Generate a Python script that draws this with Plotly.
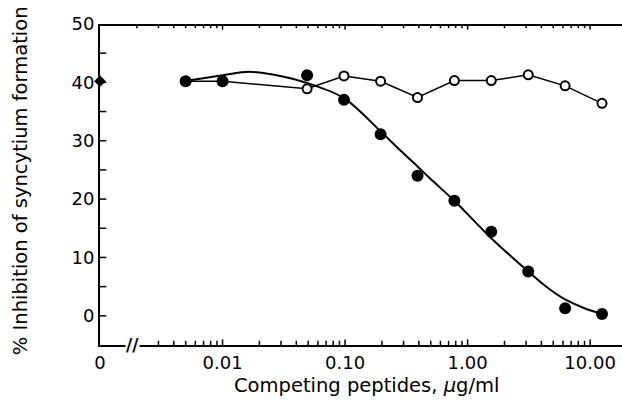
import plotly.graph_objects as go

# concentrations (ug/ml)
conc = [0.005, 0.01, 0.049, 0.098, 0.195, 0.39, 0.78, 1.56, 3.125, 6.25, 12.5]
active = [40.2, 40.2, 41.2, 37.0, 31.1, 24.0, 19.7, 14.4, 7.6, 1.3, 0.3]
control = [40.2, 40.2, 38.9, 41.1, 40.2, 37.4, 40.3, 40.3, 41.3, 39.4, 36.4]

# fitted curve
fit_x = [0.005, 0.01, 0.0166, 0.031, 0.049, 0.098, 0.195, 0.28, 0.39, 0.49, 0.78, 1.56, 3.125, 4.5, 6.25, 9.0, 12.5]
fit_y = [40.2, 41.2, 41.8, 41.0, 39.9, 37.3, 31.6, 28.4, 25.6, 23.6, 19.7, 13.3, 7.6, 4.8, 2.8, 1.3, 0.3]

# value at zero concentration, drawn on the y axis
zero_pos = [0.001]
zero_val = [40.2]

# axis ranges and ticks
x_range_log = [-3.0, 1.26]
y_range = [-5, 50]
major_vals = [0.001, 0.01, 0.1, 1, 10]
major_text = ["0", "0.01", "0.10", "1.00", "10.00"]
minor_vals = [m * 10.0 ** e for e in range(-3, 2) for m in range(2, 10)
              if m * 10.0 ** e < 10 ** x_range_log[1]]
y_tickvals = [0, 5, 10, 15, 20, 25, 30, 35, 40, 45, 50]
y_ticktext = ["0", "", "10", "", "20", "", "30", "", "40", "", "50"]

x_title = "Competing peptides, <i>μ</i>g/ml"
y_title = "% Inhibition of syncytium formation"

FONT = "DejaVu Sans"
TICKFONT = dict(family=FONT, size=18, color="black")
TITLEFONT = dict(family=FONT, size=19.5, color="black")

x_lo = 10 ** x_range_log[0]
x_hi = 10 ** x_range_log[1]
major_inner = [v for v in major_vals if v > x_lo]

fig = go.Figure()

# tick marks drawn as half-clipped line markers on the frame edges
def tick_trace(xs, ys, symbol, size):
    return go.Scatter(x=xs, y=ys, mode="markers", hoverinfo="skip", showlegend=False,
                      marker=dict(symbol=symbol, size=size, color="black",
                                  line=dict(color="black", width=1.5)))

fig.add_trace(tick_trace(minor_vals, [y_range[0]] * len(minor_vals), "line-ns", 6))
fig.add_trace(tick_trace(minor_vals, [y_range[1]] * len(minor_vals), "line-ns", 6))
fig.add_trace(tick_trace(major_inner, [y_range[0]] * len(major_inner), "line-ns", 8))
fig.add_trace(tick_trace(major_inner, [y_range[1]] * len(major_inner), "line-ns", 8))
fig.add_trace(tick_trace([x_lo] * len(y_tickvals), y_tickvals, "line-ew", 9))
# top frame line
fig.add_trace(go.Scatter(x=[x_lo, x_hi], y=[y_range[1], y_range[1]], mode="lines",
                         line=dict(color="black", width=4), hoverinfo="skip", showlegend=False))

fig.add_trace(go.Scatter(x=fit_x, y=fit_y, mode="lines",
                         line=dict(color="black", width=2, shape="spline", smoothing=0.9),
                         hoverinfo="skip", showlegend=False))
fig.add_trace(go.Scatter(x=conc, y=control, mode="lines+markers",
                         line=dict(color="black", width=1.5),
                         marker=dict(symbol="circle", size=9, color="white",
                                     line=dict(color="black", width=2)),
                         showlegend=False))
fig.add_trace(go.Scatter(x=conc, y=active, mode="markers",
                         marker=dict(symbol="circle", size=12, color="black"),
                         showlegend=False))
fig.add_trace(go.Scatter(x=zero_pos, y=zero_val, mode="markers", cliponaxis=False,
                         marker=dict(symbol="diamond", size=9, color="black"),
                         showlegend=False))

annotations = [
    # axis break mark
    dict(text="<b>//</b>", xref="paper", yref="paper", x=0.063, y=0.0,
         xanchor="center", yanchor="middle", showarrow=False, bgcolor="white",
         borderpad=0, font=dict(family=FONT, size=17, color="black")),
    # axis titles
    dict(text=x_title, xref="paper", yref="paper", x=0.51, y=-0.125,
         xanchor="center", yanchor="middle", showarrow=False, font=TITLEFONT),
    dict(text=y_title, xref="paper", yref="paper", x=-0.151, y=0.511, textangle=-90,
         xanchor="center", yanchor="middle", showarrow=False, font=TITLEFONT),
]

fig.update_layout(
    width=622, height=408,
    margin=dict(l=100, r=0, t=24, b=63),
    plot_bgcolor="white",
    annotations=annotations,
    showlegend=False,
    xaxis=dict(type="log", range=x_range_log, showline=True, linecolor="black", linewidth=2,
               showgrid=False, zeroline=False,
               tickmode="array", tickvals=major_vals, ticktext=major_text,
               ticks="", tickfont=TICKFONT, automargin=False),
    yaxis=dict(range=y_range, showline=True, linecolor="black", linewidth=2,
               showgrid=False, zeroline=False,
               tickmode="array", tickvals=y_tickvals, ticktext=y_ticktext,
               ticks="", tickfont=TICKFONT, automargin=False),
)

fig.write_html("out.html")
